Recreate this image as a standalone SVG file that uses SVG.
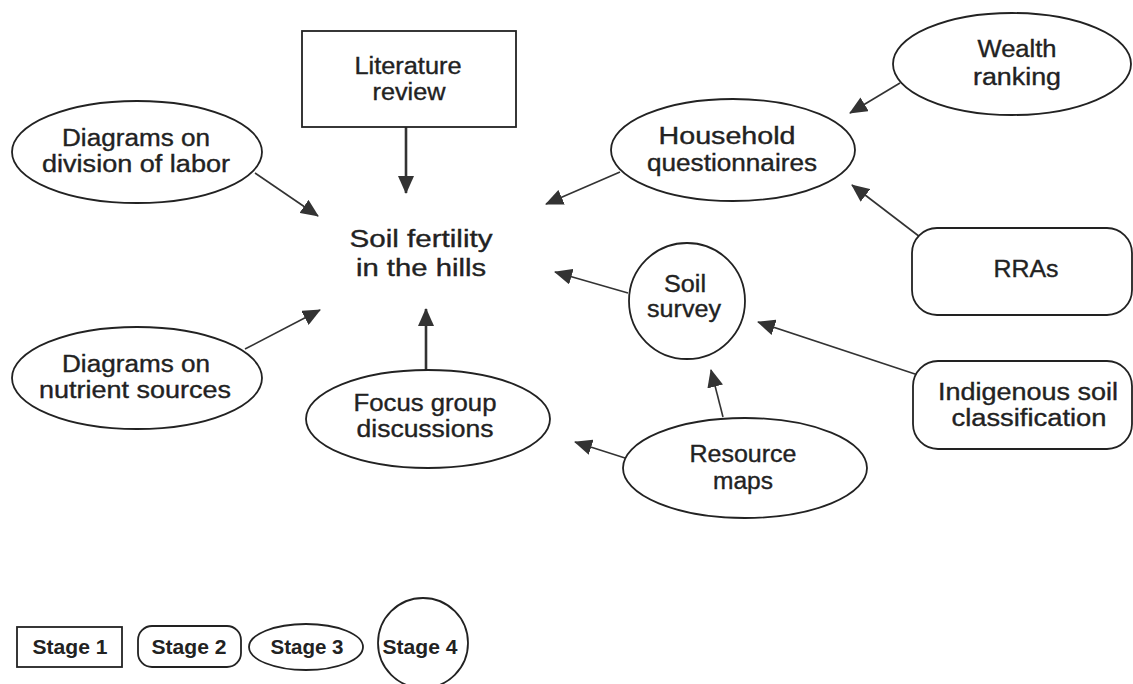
<svg xmlns="http://www.w3.org/2000/svg" width="1133" height="684" viewBox="0 0 1133 684">
<style>
.s{fill:#fff;stroke:#222;stroke-width:1.8}
.t{font-family:"Liberation Sans",Arial,sans-serif;font-size:23px;fill:#222;stroke:#222;stroke-width:0.35;text-anchor:middle}
.l{font-family:"Liberation Sans",Arial,sans-serif;font-size:20px;font-weight:bold;fill:#222;text-anchor:middle}
.c{stroke:#333;stroke-width:1.6;fill:none;marker-end:url(#ah)}
.k{stroke-width:2.6}
</style>
<defs>
<marker id="ah" viewBox="0 0 18 16" refX="17" refY="8" markerWidth="18" markerHeight="16" markerUnits="userSpaceOnUse" orient="auto">
<path d="M0,0 L18,8 L0,16 Z" fill="#333"/>
</marker>
</defs>
<rect width="1133" height="684" fill="#fff"/>
<g id="connectors">
<line class="c k" x1="406" y1="127" x2="406" y2="193"/>
<line class="c" x1="255" y1="173" x2="318" y2="216"/>
<line class="c" x1="245" y1="349" x2="320" y2="310"/>
<line class="c k" x1="426" y1="370" x2="426" y2="309"/>
<line class="c" x1="620" y1="172" x2="546" y2="204"/>
<line class="c" x1="628" y1="293" x2="555" y2="272"/>
<line class="c" x1="900" y1="83" x2="850" y2="113"/>
<line class="c" x1="920" y1="237" x2="852" y2="185"/>
<line class="c" x1="918" y1="375" x2="758" y2="322"/>
<line class="c" x1="723" y1="417" x2="711" y2="370"/>
<line class="c" x1="625" y1="458" x2="575" y2="442"/>
</g>
<g id="literature">
<rect class="s" x="302" y="31" width="214" height="96"/>
<text class="t" x="408" y="74" textLength="107" lengthAdjust="spacingAndGlyphs">Literature</text>
<text class="t" x="409" y="100" textLength="73" lengthAdjust="spacingAndGlyphs">review</text>
</g>
<g id="division">
<ellipse class="s" cx="137" cy="152" rx="125" ry="51"/>
<text class="t" x="136" y="146" textLength="148" lengthAdjust="spacingAndGlyphs">Diagrams on</text>
<text class="t" x="136" y="172" textLength="188" lengthAdjust="spacingAndGlyphs">division of labor</text>
</g>
<g id="center">
<text class="t" x="421" y="247" textLength="143" lengthAdjust="spacingAndGlyphs">Soil fertility</text>
<text class="t" x="421" y="276" textLength="130" lengthAdjust="spacingAndGlyphs">in the hills</text>
</g>
<g id="nutrient">
<ellipse class="s" cx="137" cy="378" rx="125" ry="51"/>
<text class="t" x="136" y="372" textLength="148" lengthAdjust="spacingAndGlyphs">Diagrams on</text>
<text class="t" x="135" y="398" textLength="192" lengthAdjust="spacingAndGlyphs">nutrient sources</text>
</g>
<g id="focus">
<ellipse class="s" cx="428" cy="419" rx="122" ry="49"/>
<text class="t" x="425" y="411" textLength="143" lengthAdjust="spacingAndGlyphs">Focus group</text>
<text class="t" x="425" y="437" textLength="137" lengthAdjust="spacingAndGlyphs">discussions</text>
</g>
<g id="household">
<ellipse class="s" cx="733" cy="150" rx="122" ry="51"/>
<text class="t" x="727" y="144" textLength="137" lengthAdjust="spacingAndGlyphs">Household</text>
<text class="t" x="732" y="171" textLength="170" lengthAdjust="spacingAndGlyphs">questionnaires</text>
</g>
<g id="wealth">
<ellipse class="s" cx="1012" cy="64" rx="119" ry="51"/>
<text class="t" x="1017" y="57" textLength="79" lengthAdjust="spacingAndGlyphs">Wealth</text>
<text class="t" x="1017" y="85" textLength="88" lengthAdjust="spacingAndGlyphs">ranking</text>
</g>
<g id="rras">
<rect class="s" x="912" y="228" width="220" height="87" rx="25"/>
<text class="t" x="1026" y="277" textLength="65" lengthAdjust="spacingAndGlyphs">RRAs</text>
</g>
<g id="soilsurvey">
<circle class="s" cx="687" cy="301" r="58"/>
<text class="t" x="685" y="292" textLength="42" lengthAdjust="spacingAndGlyphs">Soil</text>
<text class="t" x="684" y="317" textLength="74" lengthAdjust="spacingAndGlyphs">survey</text>
</g>
<g id="indigenous">
<rect class="s" x="913" y="361" width="219" height="88" rx="25"/>
<text class="t" x="1028" y="400" textLength="180" lengthAdjust="spacingAndGlyphs">Indigenous soil</text>
<text class="t" x="1029" y="426" textLength="155" lengthAdjust="spacingAndGlyphs">classification</text>
</g>
<g id="resource">
<ellipse class="s" cx="745" cy="468" rx="122" ry="50"/>
<text class="t" x="743" y="462" textLength="107" lengthAdjust="spacingAndGlyphs">Resource</text>
<text class="t" x="743" y="489" textLength="60" lengthAdjust="spacingAndGlyphs">maps</text>
</g>
<g id="legend-stage1">
<rect class="s" x="17" y="627" width="105" height="40"/>
<text class="l" x="70" y="654" textLength="75" lengthAdjust="spacingAndGlyphs">Stage 1</text>
</g>
<g id="legend-stage2">
<rect class="s" x="138" y="626" width="103" height="41" rx="14"/>
<text class="l" x="189" y="654" textLength="75" lengthAdjust="spacingAndGlyphs">Stage 2</text>
</g>
<g id="legend-stage3">
<ellipse class="s" cx="306" cy="647" rx="57" ry="23"/>
<text class="l" x="307" y="654" textLength="73" lengthAdjust="spacingAndGlyphs">Stage 3</text>
</g>
<g id="legend-stage4">
<circle class="s" cx="423" cy="643" r="45"/>
<text class="l" x="420" y="654" textLength="75" lengthAdjust="spacingAndGlyphs">Stage 4</text>
</g>
</svg>
